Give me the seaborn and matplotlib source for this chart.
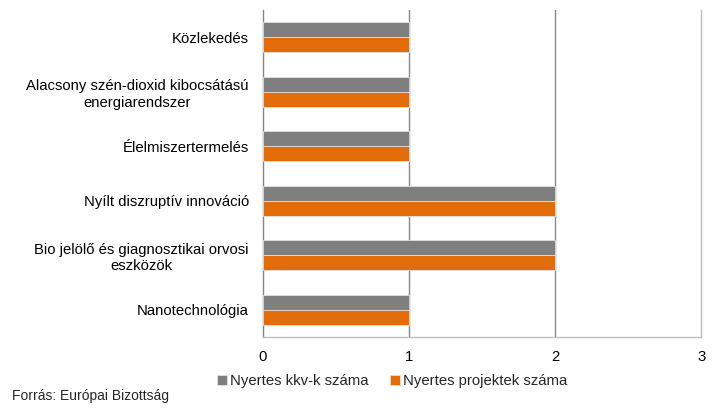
import pandas as pd
import matplotlib.pyplot as plt
import seaborn as sns

categories = [
    "Közlekedés",
    "Alacsony szén-dioxid kibocsátású\nenergiarendszer",
    "Élelmiszertermelés",
    "Nyílt diszruptív innováció",
    "Bio jelölő és giagnosztikai orvosi\neszközök",
    "Nanotechnológia",
]
kkv = [1, 1, 1, 2, 2, 1]
projektek = [1, 1, 1, 2, 2, 1]
series = ["Nyertes kkv-k száma", "Nyertes projektek száma"]
colors = ["#7F7F7F", "#E36C0A"]

df = pd.DataFrame({
    "Kategória": categories * 2,
    "Érték": kkv + projektek,
    "Sorozat": [series[0]] * len(categories) + [series[1]] * len(categories),
})

sns.set_style("white")
plt.rcParams["font.family"] = ["Liberation Sans", "DejaVu Sans"]

fig = plt.figure(figsize=(7.14, 4.08), dpi=100)
ax = fig.add_axes([0.368, 0.174, 0.614, 0.801])

sns.barplot(data=df, y="Kategória", x="Érték", hue="Sorozat", order=categories,
            hue_order=series, palette=colors, saturation=1, orient="h", width=0.55,
            edgecolor="#E0E0E0", linewidth=0.6, ax=ax, zorder=3)

ax.set_xlim(0, 3)
ax.set_xticks([0, 1, 2, 3])
ax.set_xlabel("")
ax.set_ylabel("")
ax.tick_params(axis="both", length=0, labelsize=10.7, colors="#000000")
ax.tick_params(axis="x", pad=9)
ax.tick_params(axis="y", pad=10)
for lab in ax.get_yticklabels():
    lab.set_multialignment("center")

ax.grid(False)
for v in [1, 2]:
    ax.axvline(v, color="#868686", linewidth=1, zorder=1)

ax.spines["top"].set_visible(False)
ax.spines["left"].set_color("#868686")
ax.spines["right"].set_color("#BFBFBF")
ax.spines["bottom"].set_color("#BFBFBF")
for s in ["left", "right", "bottom"]:
    ax.spines[s].set_linewidth(1)

handles, labels = ax.get_legend_handles_labels()
ax.legend(handles, labels, loc="center", bbox_to_anchor=(0.549, 0.066),
          bbox_transform=fig.transFigure, ncol=2, frameon=False, fontsize=10.7,
          handlelength=0.7, handleheight=0.7, handletextpad=0.2, columnspacing=1.4)

fig.text(0.017, 0.012, "Forrás: Európai Bizottság", fontsize=10, ha="left", va="bottom")

fig.savefig("out.png", dpi=100)
